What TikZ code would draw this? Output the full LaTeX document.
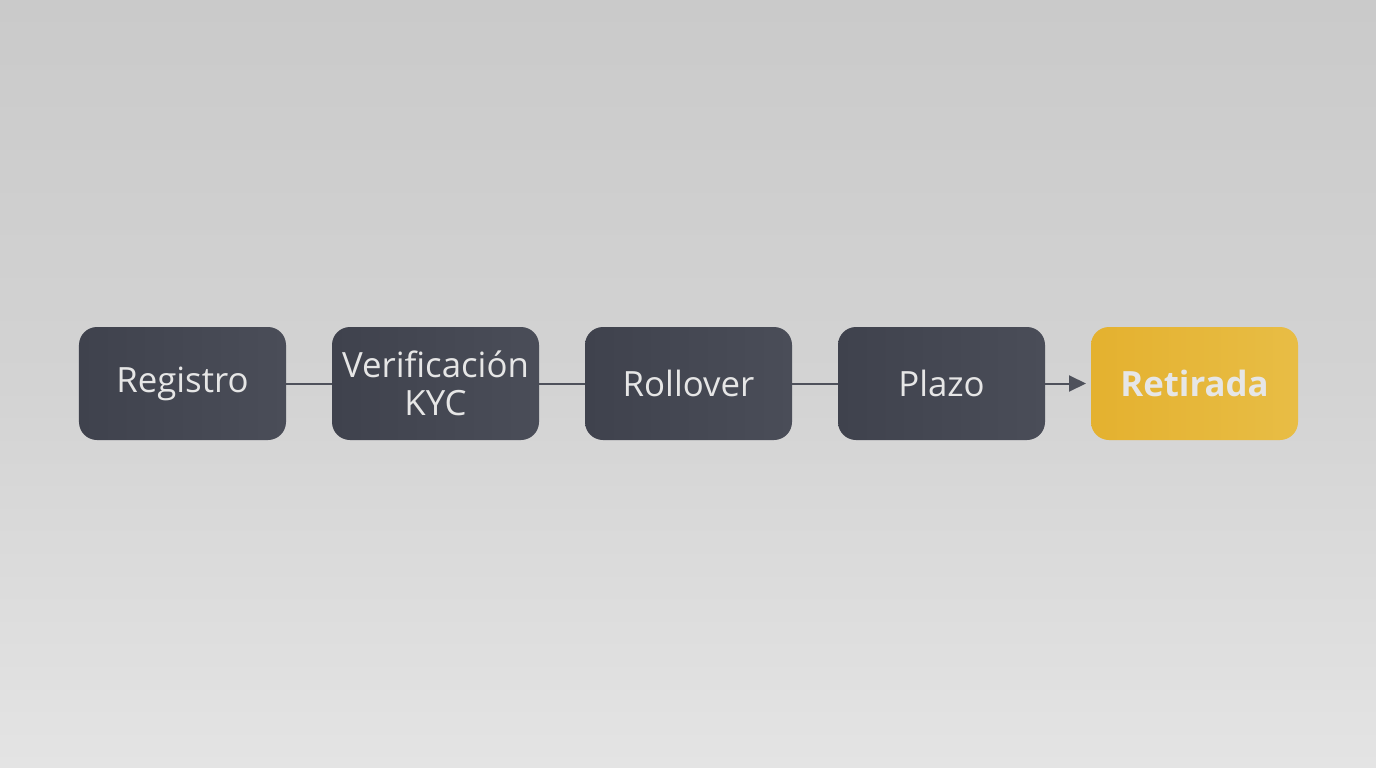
\documentclass[tikz,border=0pt]{standalone}
\usepackage{fontspec}
\setmainfont{Open Sans}
\usetikzlibrary{positioning,arrows.meta}
\definecolor{boxdark}{HTML}{3F424D}
\definecolor{boxdarkr}{HTML}{4A4D58}
\definecolor{boxgold}{HTML}{E4B12F}
\definecolor{boxgoldr}{HTML}{E8BD45}
\definecolor{boxtext}{HTML}{E6E6E6}
\definecolor{linkgray}{HTML}{4E515B}
\definecolor{bgtop}{HTML}{CACACA}
\definecolor{bgmid}{HTML}{D3D3D3}
\definecolor{bgbot}{HTML}{E4E4E4}
\tikzset{
  stagebox/.style={rectangle, rounded corners=0.18cm, minimum width=2.07cm, minimum height=1.13cm,
    inner xsep=0pt, outer sep=0pt, left color=boxdark, right color=boxdarkr, text=boxtext, align=center,
    font=\fontsize{9.9}{10.8}\selectfont},
  goalbox/.style={stagebox, left color=boxgold, right color=boxgoldr, font=\fontsize{9.9}{10.8}\selectfont\bfseries},
  link/.style={draw=linkgray, line width=0.02cm}
}
\begin{document}
\begin{tikzpicture}[node distance=0.46cm]
    % Background
    \shade[top color=bgtop, bottom color=bgbot, middle color=bgmid] (0,0) rectangle (13.76,-7.68);
    \useasboundingbox (0,0) rectangle (13.76,-7.68);

    % Stages
    \node[stagebox] (registro) at (1.825,-3.835) {Registro};
    \node[stagebox, right=of registro] (kyc) {Verificación\\KYC};
    \node[stagebox, right=of kyc] (rollover) {Rollover};
    \node[stagebox, right=of rollover] (plazo) {Plazo};
    \node[goalbox, right=of plazo] (retirada) {Retirada};

    % Links
    \draw[link] (registro.east) -- (kyc.west);
    \draw[link] (kyc.east) -- (rollover.west);
    \draw[link] (rollover.east) -- (plazo.west);
    \draw[link, -{Triangle[length=0.17cm, width=0.16cm]}] (plazo.east) -- ([xshift=-0.05cm]retirada.west);
\end{tikzpicture}
\end{document}
